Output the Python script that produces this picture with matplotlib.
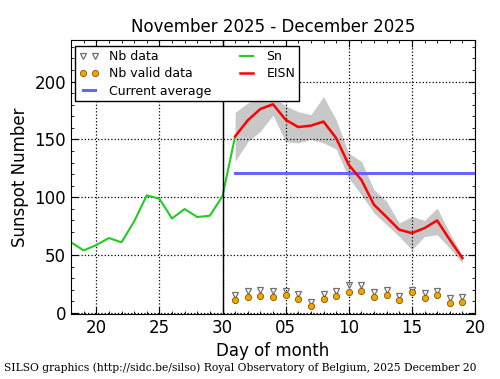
import matplotlib
matplotlib.use('Agg')
import matplotlib.pyplot as plt
from matplotlib.ticker import MultipleLocator, FuncFormatter

# days counted from Nov 1 (Dec 1 = 31)
sn_days = list(range(18, 32))
sn_vals = [61, 54, 58.6, 64.7, 61, 79, 101.6, 98.7, 81.6, 89.8, 82.9, 84, 101, 152.6]

eisn_days = list(range(31, 50))
eisn_vals = [152.6, 166.5, 176.3, 180.4, 167, 160.7, 161.9, 165.4, 151.2, 128,
             115, 93.5, 82.8, 71.9, 69, 73.3, 79.9, 63.2, 47.4]
eisn_hi = [173.4, 181.5, 186, 187, 179, 174, 171.4, 187, 167, 138,
           131, 106.5, 96.4, 77.6, 83.4, 80, 90.6, 69, 50]
eisn_lo = [131, 148, 157, 171, 148, 147, 150, 147, 141.7, 116.6,
           102, 86.3, 76.2, 66, 54.5, 66, 67.5, 56, 43]

nb_data = [15.3, 19.3, 20, 19.3, 18.8, 16.2, 9.2, 16.5, 19.3, 23.9,
           23.9, 18.4, 20, 15, 20, 17, 19, 13.2, 13.6]
nb_valid = [11.3, 14.1, 15, 14.1, 15.6, 12.1, 6.3, 12.1, 15, 17.9,
            19, 14.1, 15.6, 11.3, 18.4, 13.2, 15.6, 8.9, 9.8]

current_avg = 121
avg_span = [31, 50]

fig = plt.figure(figsize=(5, 3.79), dpi=100)
ax = fig.add_axes([0.142, 0.1715, 0.808, 0.723])

ax.fill_between(eisn_days, eisn_lo, eisn_hi, color='#c8c8c8', lw=0)
ax.plot(eisn_days, nb_data, 'v', mfc='none', mec='#707070', ms=4.5, mew=0.9, label='Nb data')
ax.plot(eisn_days, nb_valid, 'o', mfc='#f5a300', mec='#7a5a00', ms=4.5, mew=0.6, label='Nb valid data')
ax.plot(avg_span, [current_avg, current_avg], color='#6666ff', lw=2.2, label='Current average')
ax.plot(sn_days, sn_vals, color='#22cc22', lw=1.5, label='Sn')
ax.plot(eisn_days, eisn_vals, color='red', lw=1.8, label='EISN')
ax.axvline(30, color='black', lw=1)

ax.set_xlim(18, 50)
ax.set_ylim(-1, 236)
ax.xaxis.set_major_locator(MultipleLocator(5))
ax.xaxis.set_minor_locator(MultipleLocator(1))
ax.yaxis.set_major_locator(MultipleLocator(50))
ax.yaxis.set_minor_locator(MultipleLocator(10))
ax.xaxis.set_major_formatter(FuncFormatter(lambda v, p: '%02d' % (v - 30 if v > 30 else v)))
ax.tick_params(which='both', direction='in', top=True, right=True, labelsize=12)
ax.tick_params(which='major', length=5)
ax.tick_params(which='minor', length=2.5)
ax.grid(True, which='major', color='black', linestyle=':', lw=0.9)

ax.set_title('November 2025 - December 2025', fontsize=12)
ax.set_xlabel('Day of month', fontsize=12)
ax.set_ylabel('Sunspot Number', fontsize=12)

ax.legend(loc='upper left', ncol=2, fontsize=9, fancybox=False, edgecolor='black',
          framealpha=1, numpoints=2, handlelength=1.6, borderpad=0.3,
          labelspacing=0.35, columnspacing=2.0, bbox_to_anchor=(-0.005, 1.0))

fig.text(0.954, 0.02, 'SILSO graphics (http://sidc.be/silso) Royal Observatory of Belgium, 2025 December 20',
         ha='right', fontsize=7.75, family='DejaVu Serif')

fig.savefig('out.png', dpi=100)
